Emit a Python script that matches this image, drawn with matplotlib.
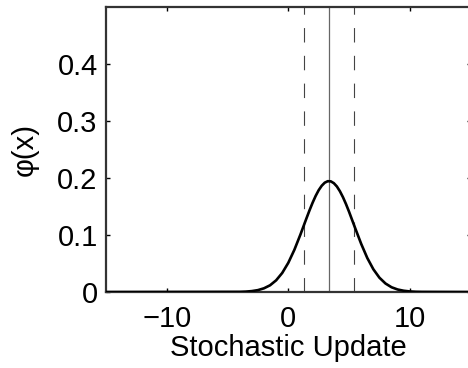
import matplotlib.pyplot as plt

# curve (density vs. update)
x_vals = [-15, -4, -3.5, -3, -2.5, -2, -1.5, -1, -0.5, 0, 0.5, 1, 1.5, 1.75, 2, 2.25, 2.5,
          2.75, 3, 3.25, 3.5, 3.75, 4, 4.25, 4.5, 4.75, 5, 5.5, 6, 6.5, 7, 7.5, 8, 8.5,
          9, 9.5, 10, 10.5, 11, 15]
phi_vals = [0, 0.0003, 0.0007, 0.0016, 0.0033, 0.0065, 0.0118, 0.0205, 0.0334, 0.0512,
            0.0740, 0.1009, 0.1295, 0.1435, 0.1566, 0.1685, 0.1786, 0.1864, 0.1918,
            0.1944, 0.1941, 0.1909, 0.1851, 0.1767, 0.1663, 0.1542, 0.1408, 0.1123,
            0.0844, 0.0597, 0.0399, 0.0251, 0.0149, 0.0083, 0.0044, 0.0022, 0.0010,
            0.0004, 0.0002, 0]
mean_x = 3.35
band_x = [1.3, 5.4]

x_ticks = [-10, 0, 10]
y_ticks = [0, 0.1, 0.2, 0.3, 0.4]

plt.rcParams['font.family'] = ['Liberation Sans', 'DejaVu Sans']

fig = plt.figure(figsize=(4.68, 3.68), dpi=100)
ax = fig.add_axes([0.2265, 0.2065, 0.779, 0.7745])

ax.axvline(mean_x, color="#666666", lw=0.9, zorder=2)
for bx in band_x:
    ax.axvline(bx, color="#444444", lw=0.8, dashes=(13, 12), zorder=2)
ax.plot(x_vals, phi_vals, color="black", lw=1.9, zorder=3)

ax.set_xlim(-15, 15)
ax.set_ylim(0, 0.5)
ax.set_xticks(x_ticks, labels=["\u221210", "0", "10"])
ax.set_yticks(y_ticks, labels=["0", "0.1", "0.2", "0.3", "0.4"])
ax.tick_params(direction="in", length=3, width=1, top=True, right=True,
               labelsize=21)
ax.tick_params(axis="x", pad=9)
ax.tick_params(axis="y", pad=6)
for s in ax.spines.values():
    s.set_linewidth(1.6)
    s.set_color("#333333")

ax.set_xlabel("Stochastic Update", fontsize=21, labelpad=1)
ax.set_ylabel("\u03c6(x)", fontsize=21, labelpad=13)

fig.savefig("out.png", dpi=100)
